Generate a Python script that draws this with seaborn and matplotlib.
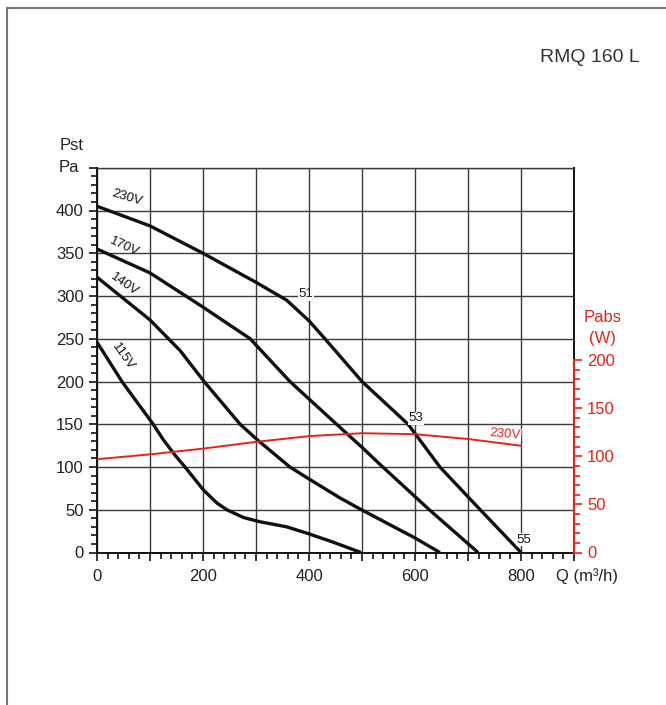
import matplotlib
matplotlib.use("Agg")
import matplotlib.pyplot as plt
from matplotlib.lines import Line2D
from matplotlib.ticker import MultipleLocator, FuncFormatter
import seaborn as sns
import pandas as pd

# curve data (Q in m3/h, Pst in Pa)
q_230 = [0, 100, 200, 300, 358, 400, 430, 500, 587, 647, 723, 800]
p_230 = [405, 382, 350, 316, 295, 271, 250, 200, 150, 100, 50, 0]
q_170 = [0, 100, 175, 200, 289, 364, 452, 500, 534, 627, 719]
p_170 = [355, 327, 297, 287, 250, 200, 150, 123, 103, 50, 0]
q_140 = [0, 100, 157, 202, 270, 304, 364, 400, 458, 496, 600, 647]
p_140 = [322, 272, 236, 200, 150, 131, 100, 86, 64, 51, 17, 0]
q_115 = [0, 47, 106, 125, 147, 166, 201, 226, 245, 276, 307, 358, 399, 446, 498]
p_115 = [246, 200, 150, 132, 114, 100, 73, 58, 50, 41, 36, 30, 22, 12, 0]

# absorbed power at 230V (W)
q_pabs = [0, 100, 200, 300, 400, 500, 600, 700, 800]
w_pabs = [97, 102, 108, 115, 121, 124, 123, 118, 111]

RED = "#e3241b"
sns.set_theme(style="white")
plt.rcParams["font.family"] = ["Liberation Sans", "DejaVu Sans"]

curves = pd.concat([
    pd.DataFrame({"Q": q_230, "P": p_230, "V": "230V"}),
    pd.DataFrame({"Q": q_170, "P": p_170, "V": "170V"}),
    pd.DataFrame({"Q": q_140, "P": p_140, "V": "140V"}),
    pd.DataFrame({"Q": q_115, "P": p_115, "V": "115V"}),
])
pabs = pd.DataFrame({"Q": q_pabs, "W": w_pabs})

fig = plt.figure(figsize=(6.66, 7.05), dpi=100)
ax = fig.add_axes([97 / 666, 1 - 552.5 / 705, 477 / 666, 384.75 / 705])
ax2 = ax.twinx()

for v, d in curves.groupby("V", sort=False):
    sns.lineplot(data=d, x="Q", y="P", ax=ax, color="#111111", lw=2.4,
                 sort=False, solid_joinstyle="round", solid_capstyle="butt",
                 zorder=3)
sns.lineplot(data=pabs, x="Q", y="W", ax=ax2, color=RED, lw=1.4, sort=False)

ax.set_xlim(0, 900)
ax.set_ylim(0, 450)
ax2.set_ylim(0, 400)

# grid
ax.xaxis.set_major_locator(MultipleLocator(100))
ax.xaxis.set_minor_locator(MultipleLocator(20))
ax.yaxis.set_major_locator(MultipleLocator(50))
ax.yaxis.set_minor_locator(MultipleLocator(10))
ax.grid(True, which="major", color="#3a3a3a", lw=1.0)
ax.set_axisbelow(True)
ax.xaxis.set_major_formatter(FuncFormatter(
    lambda v, p: f"{int(v)}" if v % 200 == 0 and v <= 800 else ""))
ax.yaxis.set_major_formatter(FuncFormatter(
    lambda v, p: f"{int(v)}" if v <= 400 else ""))
ax.tick_params(axis="both", which="major", direction="out", length=6,
               width=1.2, color="#111111", labelsize=12, labelcolor="#222222",
               bottom=True, left=True)
ax.tick_params(axis="both", which="minor", direction="out", length=4,
               width=1.2, color="#111111", bottom=True, left=True)
ax.tick_params(axis="x", pad=6)
ax.set_xlabel("")
ax.set_ylabel("")
for s in ax.spines.values():
    s.set_color("#111111")
    s.set_linewidth(1.4)
ax.spines["top"].set_color("#3a3a3a")
ax.spines["top"].set_linewidth(1.0)

# right red axis
ax2.set_yticks([0, 50, 100, 150, 200])
ax2.set_yticks([t for t in range(0, 201, 10) if t % 50], minor=True)
ax2.tick_params(axis="y", which="major", direction="out", length=6, width=1.2,
                color=RED, labelcolor=RED, labelsize=12, right=True)
ax2.tick_params(axis="y", which="minor", direction="out", length=4, width=1.2,
                color=RED, right=True)
for k in ["top", "left", "bottom"]:
    ax2.spines[k].set_visible(False)
ax2.spines["right"].set_color(RED)
ax2.spines["right"].set_linewidth(1.6)
ax2.spines["right"].set_bounds(0, 200)
ax2.set_ylabel("")
ax2.set_xlabel("")

# curve labels
lab = dict(fontsize=9.5, color="#111111", ha="center", va="center", zorder=5)
ax.text(57, 415, "230V", rotation=-17, **lab)
ax.text(51, 358, "170V", rotation=-25, **lab)
ax.text(51, 314, "140V", rotation=-35, **lab)
ax.text(49, 229, "115V", rotation=-55, **lab)
box = dict(facecolor="white", edgecolor="none", pad=0.5)
ax.text(394, 302, "51", bbox=box, **lab)
ax.text(602, 157, "53", bbox=box, **lab)
ax.text(806, 15, "55", bbox=box, **lab)
ax2.text(770, 123, "230V", rotation=-5, fontsize=9.5, color=RED,
         ha="center", va="center", bbox=box)

# axis titles
fig.text(72 / 666, 1 - 145 / 705, "Pst", fontsize=12, color="#222222",
         ha="center", va="center")
fig.text(69 / 666, 1 - 167 / 705, "Pa", fontsize=12, color="#222222",
         ha="center", va="center")
fig.text(603 / 666, 1 - 318 / 705, "Pabs", fontsize=12, color=RED,
         ha="center", va="center")
fig.text(603 / 666, 1 - 338 / 705, "(W)", fontsize=12, color=RED,
         ha="center", va="center")
fig.text(556 / 666, 1 - 576 / 705, "Q (m³/h)", fontsize=12, color="#222222",
         ha="left", va="center")
fig.text(640 / 666, 1 - 58 / 705, "RMQ 160 L", fontsize=14, color="#333333",
         ha="right", va="center")

# outer frame
fig.add_artist(Line2D([7 / 666, 1], [1 - 8 / 705, 1 - 8 / 705],
                      transform=fig.transFigure, color="#777777", lw=1.5))
fig.add_artist(Line2D([7 / 666, 7 / 666], [0, 1 - 8 / 705],
                      transform=fig.transFigure, color="#777777", lw=1.5))

fig.savefig("out.png", dpi=100)
